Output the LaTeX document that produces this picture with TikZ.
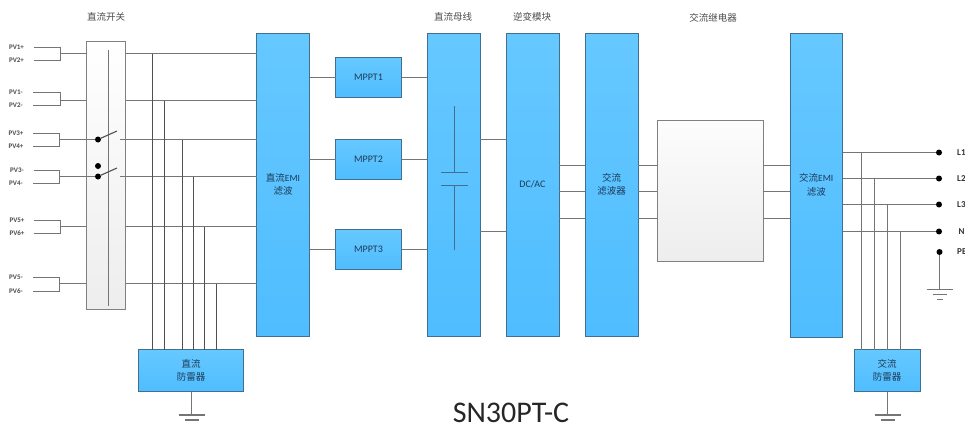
\documentclass[tikz,border=0pt]{standalone}
\usepackage{fontspec}
\setmainfont{Carlito}
\newfontfamily\cjk{Noto Sans CJK SC}
\usetikzlibrary{calc}
\definecolor{wire}{HTML}{757575}
\definecolor{darkwire}{HTML}{505050}
\definecolor{blueedge}{HTML}{41708F}
\definecolor{bluetop}{HTML}{66C8FF}
\definecolor{bluebot}{HTML}{4FBDFF}
\definecolor{inktext}{HTML}{1D3B58}
\tikzset{
  x=1pt,y=-1pt,
  block/.style={draw=blueedge,line width=1pt,top color=bluetop,bottom color=bluebot,inner sep=0pt,outer sep=0pt,align=center,text=inktext,font=\cjk\fontsize{9.5}{13.5}\selectfont},
  latinblock/.style={block,font=\fontsize{10}{11}\selectfont},
  greybox/.style={draw=black!50,line width=1pt,inner sep=0pt,outer sep=0pt},
  wireline/.style={draw=wire,line width=1.1pt},
  darkline/.style={draw=darkwire,line width=1.1pt},
  capline/.style={draw=blueedge,line width=1pt},
  pvlabel/.style={font=\bfseries\fontsize{7}{8}\selectfont,text=black!70,inner sep=0pt},
  headtext/.style={font=\cjk\fontsize{9.5}{11}\selectfont,text=black!70,inner sep=0pt},
  termlabel/.style={font=\bfseries\fontsize{9}{10}\selectfont,text=black!80,inner sep=0pt,anchor=west},
  dotmark/.style={circle,fill=black,inner sep=0pt,minimum size=6pt,outer sep=0pt},
}
\newcommand{\gnd}[2]{%
  \draw[wireline] ($(#1)+(-13,0)$) -- ($(#1)+(13,0)$);
  \draw[wireline] ($(#1)+(-7,5)$) -- ($(#1)+(7,5)$);
  #2}
\begin{document}
\begin{tikzpicture}
\useasboundingbox (0,0) rectangle (965,423);
% rows
\coordinate (r1) at (0,53.5);
\coordinate (r2) at (0,100.5);
\coordinate (r3) at (0,139.5);
\coordinate (r4) at (0,176.5);
\coordinate (r5) at (0,226.5);
\coordinate (r6) at (0,283.5);
\coordinate (a1) at (0,165.5);
\coordinate (a2) at (0,191.5);
\coordinate (a3) at (0,218.5);
\coordinate (l1) at (0,152.5);
\coordinate (l2) at (0,178.5);
\coordinate (l3) at (0,204.5);
\coordinate (l4) at (0,231.5);
% blocks
\node[greybox,top color=white,bottom color=black!7,minimum width=39.5pt,minimum height=268pt] (sw) at (105.75,175) {};
\node[block,minimum width=53pt,minimum height=303pt] (demi) at (283,184.5) {直流{\fontspec{Carlito}EMI}\\滤波};
\node[latinblock,minimum width=66pt,minimum height=39.5pt] (m1) at (368.5,77.5) {MPPT1};
\node[latinblock,minimum width=66pt,minimum height=39.5pt] (m2) at (368.5,159.5) {MPPT2};
\node[latinblock,minimum width=66pt,minimum height=39.5pt] (m3) at (368.5,249.5) {MPPT3};
\node[block,minimum width=53pt,minimum height=303pt] (bus) at (453.5,184.5) {};
\node[latinblock,minimum width=53pt,minimum height=303pt] (inv) at (532.5,184.5) {DC/AC};
\node[block,minimum width=53pt,minimum height=303pt] (afil) at (611.5,184.5) {交流\\滤波器};
\node[greybox,top color=black!1,bottom color=black!7,minimum width=106pt,minimum height=141pt] (rel) at (710,190.5) {};
\node[block,minimum width=52.5pt,minimum height=304pt] (aemi) at (816.25,185) {交流{\fontspec{Carlito}EMI}\\滤波};
\node[block,minimum width=105pt,minimum height=42pt] (dspd) at (191,370.5) {直流\\防雷器};
\node[block,minimum width=66pt,minimum height=42pt] (aspd) at (887,370.5) {交流\\防雷器};
% switch inner line
\coordinate (swt) at (108.5,50);
\coordinate (swb) at (108.5,306);
\draw[wireline] (swt) -- (swb);
% PV inputs
\foreach \n/\t/\bb/\c/\xa/\la/\lb/\lxa/\lxb in {p1/47.5/60.5/r1/60.5/PV1+/PV2+/16.5/16.5,p2/92.5/105.5/r2/60.5/PV1-/PV2-/16/16,p3/133.5/146.5/r3/59.5/PV3+/PV4+/16/16,p4/170.5/183.5/r4/59.5/PV3-/PV4-/17/16,p5/220.5/233.5/r5/60.5/PV5+/PV6+/17/17,p6/277.5/291.5/r6/59.5/PV5-/PV6-/16/16}{
  \node[pvlabel] (\n a) at (\lxa,\t) {\la};
  \node[pvlabel] (\n b) at (\lxb,\bb) {\lb};
  \coordinate (\n j) at (\xa,0);
  \draw[wireline] ($(\n a.center)+(17,0)$) -- (\n j |- \n a) -- (\n j |- \n b) -- ($(\n b.center)+(17,0)$);
  \draw[wireline] (\n j |- \c) -- (sw.west |- \c);
}
% switch contacts
\node[dotmark] (c3) at (98,139.5) {};
\node[dotmark] (c4) at (98,176.5) {};
\node[dotmark] (c5) at (98,166) {};
\coordinate (o3) at (117,131);
\coordinate (o4) at (117,168);
\coordinate (q3) at (119.5,139.5);
\coordinate (q4) at (119.5,176.5);
\draw[wireline] (sw.west |- r3) -- (c3);
\draw[wireline] (sw.west |- r4) -- (c4);
\draw[darkline] (c3) -- (o3);
\draw[darkline] (c4) -- (o4);
% DC lines
\draw[wireline] (sw.east |- r1) -- (demi.west |- r1);
\draw[wireline] (sw.east |- r2) -- (demi.west |- r2);
\draw[wireline] (q3) -- (demi.west |- r3);
\draw[wireline] (q4) -- (demi.west |- r4);
\draw[wireline] (sw.east |- r5) -- (demi.west |- r5);
\draw[wireline] (sw.east |- r6) -- (demi.west |- r6);
% DC SPD drops
\foreach \x/\c in {152.5/r1,164.5/r2,182.5/r3,193.5/r4,204.5/r5,216.5/r6}{
  \coordinate (dv) at (\x,0);
  \draw[darkline] (dv |- \c) -- (dv |- dspd.north);
}
% DC SPD ground
\coordinate (dg) at ($(dspd.south)+(0.5,23.5)$);
\draw[wireline] (dg |- dspd.south) -- (dg);
\gnd{dg}{}
% MPPT
\foreach \m in {m1,m2,m3}{
  \draw[wireline] (demi.east |- \m.west) -- (\m.west);
  \draw[wireline] (\m.east) -- (bus.west |- \m.east);
}
% capacitor
\coordinate (ct) at (454.5,106);
\coordinate (cu) at (454.5,172.5);
\coordinate (cd) at (454.5,185.5);
\coordinate (cb) at (454.5,250);
\draw[capline] (ct) -- (cu);
\draw[capline] (cd) -- (cb);
\draw[capline] ($(cu)+(-13.5,0)$) -- ($(cu)+(13.5,0)$);
\draw[capline] ($(cd)+(-13.5,0)$) -- ($(cd)+(13.5,0)$);
% bus to inverter
\coordinate (b1) at (0,139.5);
\coordinate (b2) at (0,231.5);
\draw[wireline] (bus.east |- b1) -- (inv.west |- b1);
\draw[wireline] (bus.east |- b2) -- (inv.west |- b2);
% AC three lines
\foreach \c in {a1,a2,a3}{
  \draw[wireline] (inv.east |- \c) -- (afil.west |- \c);
  \draw[wireline] (afil.east |- \c) -- (rel.west |- \c);
  \draw[wireline] (rel.east |- \c) -- (aemi.west |- \c);
}
% outputs
\foreach \c/\lab/\x/\dropx in {l1/L1/957/861.5,l2/L2/957/874.5,l3/L3/957/887.5,l4/N/958.5/900.5}{
  \node[dotmark] (t\c) at (939,0 |- \c) {};
  \draw[wireline] (aemi.east |- \c) -- (t\c);
  \node[termlabel] (lab\c) at (\x,0 |- \c) {\lab};
  \coordinate (av) at (\dropx,0);
  \draw[wireline] (av |- \c) -- (av |- aspd.north);
}
% PE
\node[dotmark] (pe) at (939.5,252) {};
\node[termlabel] (labpe) at (957,252) {PE};
\coordinate (pg) at (939.5,289.5);
\draw[wireline] (pe) -- (pg);
\coordinate (pg3) at (939.5,299.5);
\gnd{pg}{\draw[wireline] ($(pg3)+(-3,0)$) -- ($(pg3)+(3,0)$);}
% AC SPD ground
\coordinate (ag) at ($(aspd.south)+(0.5,23.5)$);
\draw[wireline] (ag |- aspd.south) -- (ag);
\gnd{ag}{}
% titles
\node[headtext] (h1) at (106,17) {直流开关};
\node[headtext] (h2) at (453,17) {直流母线};
\node[headtext] (h3) at (532,17) {逆变模块};
\node[headtext] (h4) at (713,18) {交流继电器};
\node[font=\fontsize{30}{32}\selectfont,text=black!85,inner sep=0pt,anchor=base] (title) at (511,422) {SN30PT-C};
\end{tikzpicture}
\end{document}
